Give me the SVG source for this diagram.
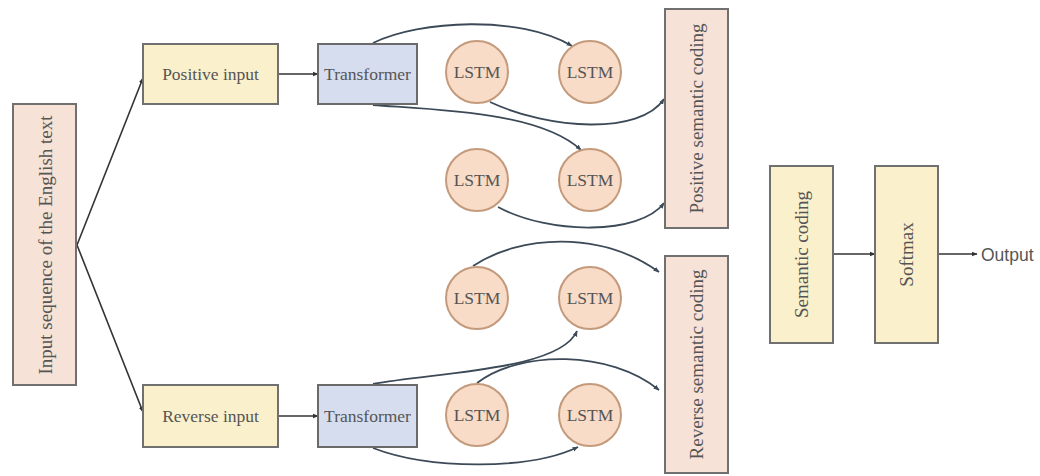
<svg xmlns="http://www.w3.org/2000/svg" width="1040" height="476" viewBox="0 0 1040 476">
<defs>
<marker id="ah" viewBox="0 0 10 10" refX="9" refY="5" markerWidth="6" markerHeight="6" markerUnits="userSpaceOnUse" orient="auto">
<path d="M0,1 L10,5 L0,9 z" fill="#333"/>
</marker>
<marker id="ahb" viewBox="0 0 10 10" refX="9" refY="5" markerWidth="6" markerHeight="6" markerUnits="userSpaceOnUse" orient="auto">
<path d="M0,1 L10,5 L0,9 z" fill="#3c4a58"/>
</marker>
</defs>
<style>
text{font-family:"Liberation Serif","DejaVu Serif",serif;font-size:17.5px;fill:#555;text-anchor:middle;dominant-baseline:central}
.v{font-size:19px}
.pink{fill:#f6e2d6;stroke:#707070;stroke-width:2}
.yel{fill:#fbf0cc;stroke:#707070;stroke-width:2}
.blue{fill:#d6ddef;stroke:#6a6a6a;stroke-width:2}
.lstm{fill:#f8dcc8;stroke:#c49a7c;stroke-width:2}
.line{fill:none;stroke:#333;stroke-width:1.6;marker-end:url(#ah)}
.curve{fill:none;stroke:#3c4a58;stroke-width:1.8;marker-end:url(#ahb)}
</style>
<rect width="1040" height="476" fill="#fff"/>
<g id="connectors">
<path class="line" d="M77,245 L143,78"/>
<path class="line" d="M77,245 L143,412"/>
<path class="line" d="M278,74 L318,74"/>
<path class="line" d="M278,416 L318,416"/>
<path class="line" d="M833,254 L875,254"/>
<path class="line" d="M938,254 L977,254"/>
<path class="curve" d="M373,43 C420,20 520,15 572,46"/>
<path class="curve" d="M373,105 C440,110 540,112 581,150"/>
<path class="curve" d="M490,102 C550,130 640,135 664,99"/>
<path class="curve" d="M498,207 C550,235 640,235 664,203"/>
<path class="curve" d="M473,266 C520,235 600,230 659,272"/>
<path class="curve" d="M373,384 C440,372 560,370 577,331"/>
<path class="curve" d="M477,383 C520,350 610,350 659,390"/>
<path class="curve" d="M373,448 C430,470 530,470 578,447"/>
</g>
<g id="input-seq"><rect class="pink" x="13" y="104" width="63" height="281"/><text class="v" transform="translate(45,245) rotate(-90)">Input sequence of the English text</text></g>
<g id="positive-input"><rect class="yel" x="143" y="44" width="135" height="60"/><text x="210.5" y="74">Positive input</text></g>
<g id="transformer-top"><rect class="blue" x="318" y="44" width="99" height="60"/><text x="367.5" y="74">Transformer</text></g>
<g id="reverse-input"><rect class="yel" x="143" y="385" width="135" height="62"/><text x="210.5" y="416">Reverse input</text></g>
<g id="transformer-bottom"><rect class="blue" x="318" y="385" width="99" height="62"/><text x="367.5" y="416">Transformer</text></g>
<g id="lstm1"><circle class="lstm" cx="477" cy="72" r="31"/><text x="477" y="72">LSTM</text></g>
<g id="lstm2"><circle class="lstm" cx="590" cy="72" r="31"/><text x="590" y="72">LSTM</text></g>
<g id="lstm3"><circle class="lstm" cx="477" cy="180" r="31"/><text x="477" y="180">LSTM</text></g>
<g id="lstm4"><circle class="lstm" cx="590" cy="180" r="31"/><text x="590" y="180">LSTM</text></g>
<g id="lstm5"><circle class="lstm" cx="477" cy="298" r="31"/><text x="477" y="298">LSTM</text></g>
<g id="lstm6"><circle class="lstm" cx="590" cy="298" r="31"/><text x="590" y="298">LSTM</text></g>
<g id="lstm7"><circle class="lstm" cx="477" cy="415" r="31"/><text x="477" y="415">LSTM</text></g>
<g id="lstm8"><circle class="lstm" cx="590" cy="415" r="31"/><text x="590" y="415">LSTM</text></g>
<g id="positive-coding"><rect class="pink" x="665" y="9" width="63" height="219"/><text class="v" transform="translate(696.5,118.5) rotate(-90)">Positive semantic coding</text></g>
<g id="reverse-coding"><rect class="pink" x="665" y="256" width="63" height="217"/><text class="v" transform="translate(696.5,364.5) rotate(-90)">Reverse semantic coding</text></g>
<g id="semantic-coding"><rect class="yel" x="770" y="166" width="63" height="177"/><text class="v" transform="translate(801.5,254.5) rotate(-90)">Semantic coding</text></g>
<g id="softmax"><rect class="yel" x="875" y="166" width="63" height="177"/><text class="v" transform="translate(906.5,254.5) rotate(-90)">Softmax</text></g>
<g id="output"><text x="981" y="255" font-size="18" style="text-anchor:start;font-family:'Liberation Sans',sans-serif">Output</text></g>
</svg>
